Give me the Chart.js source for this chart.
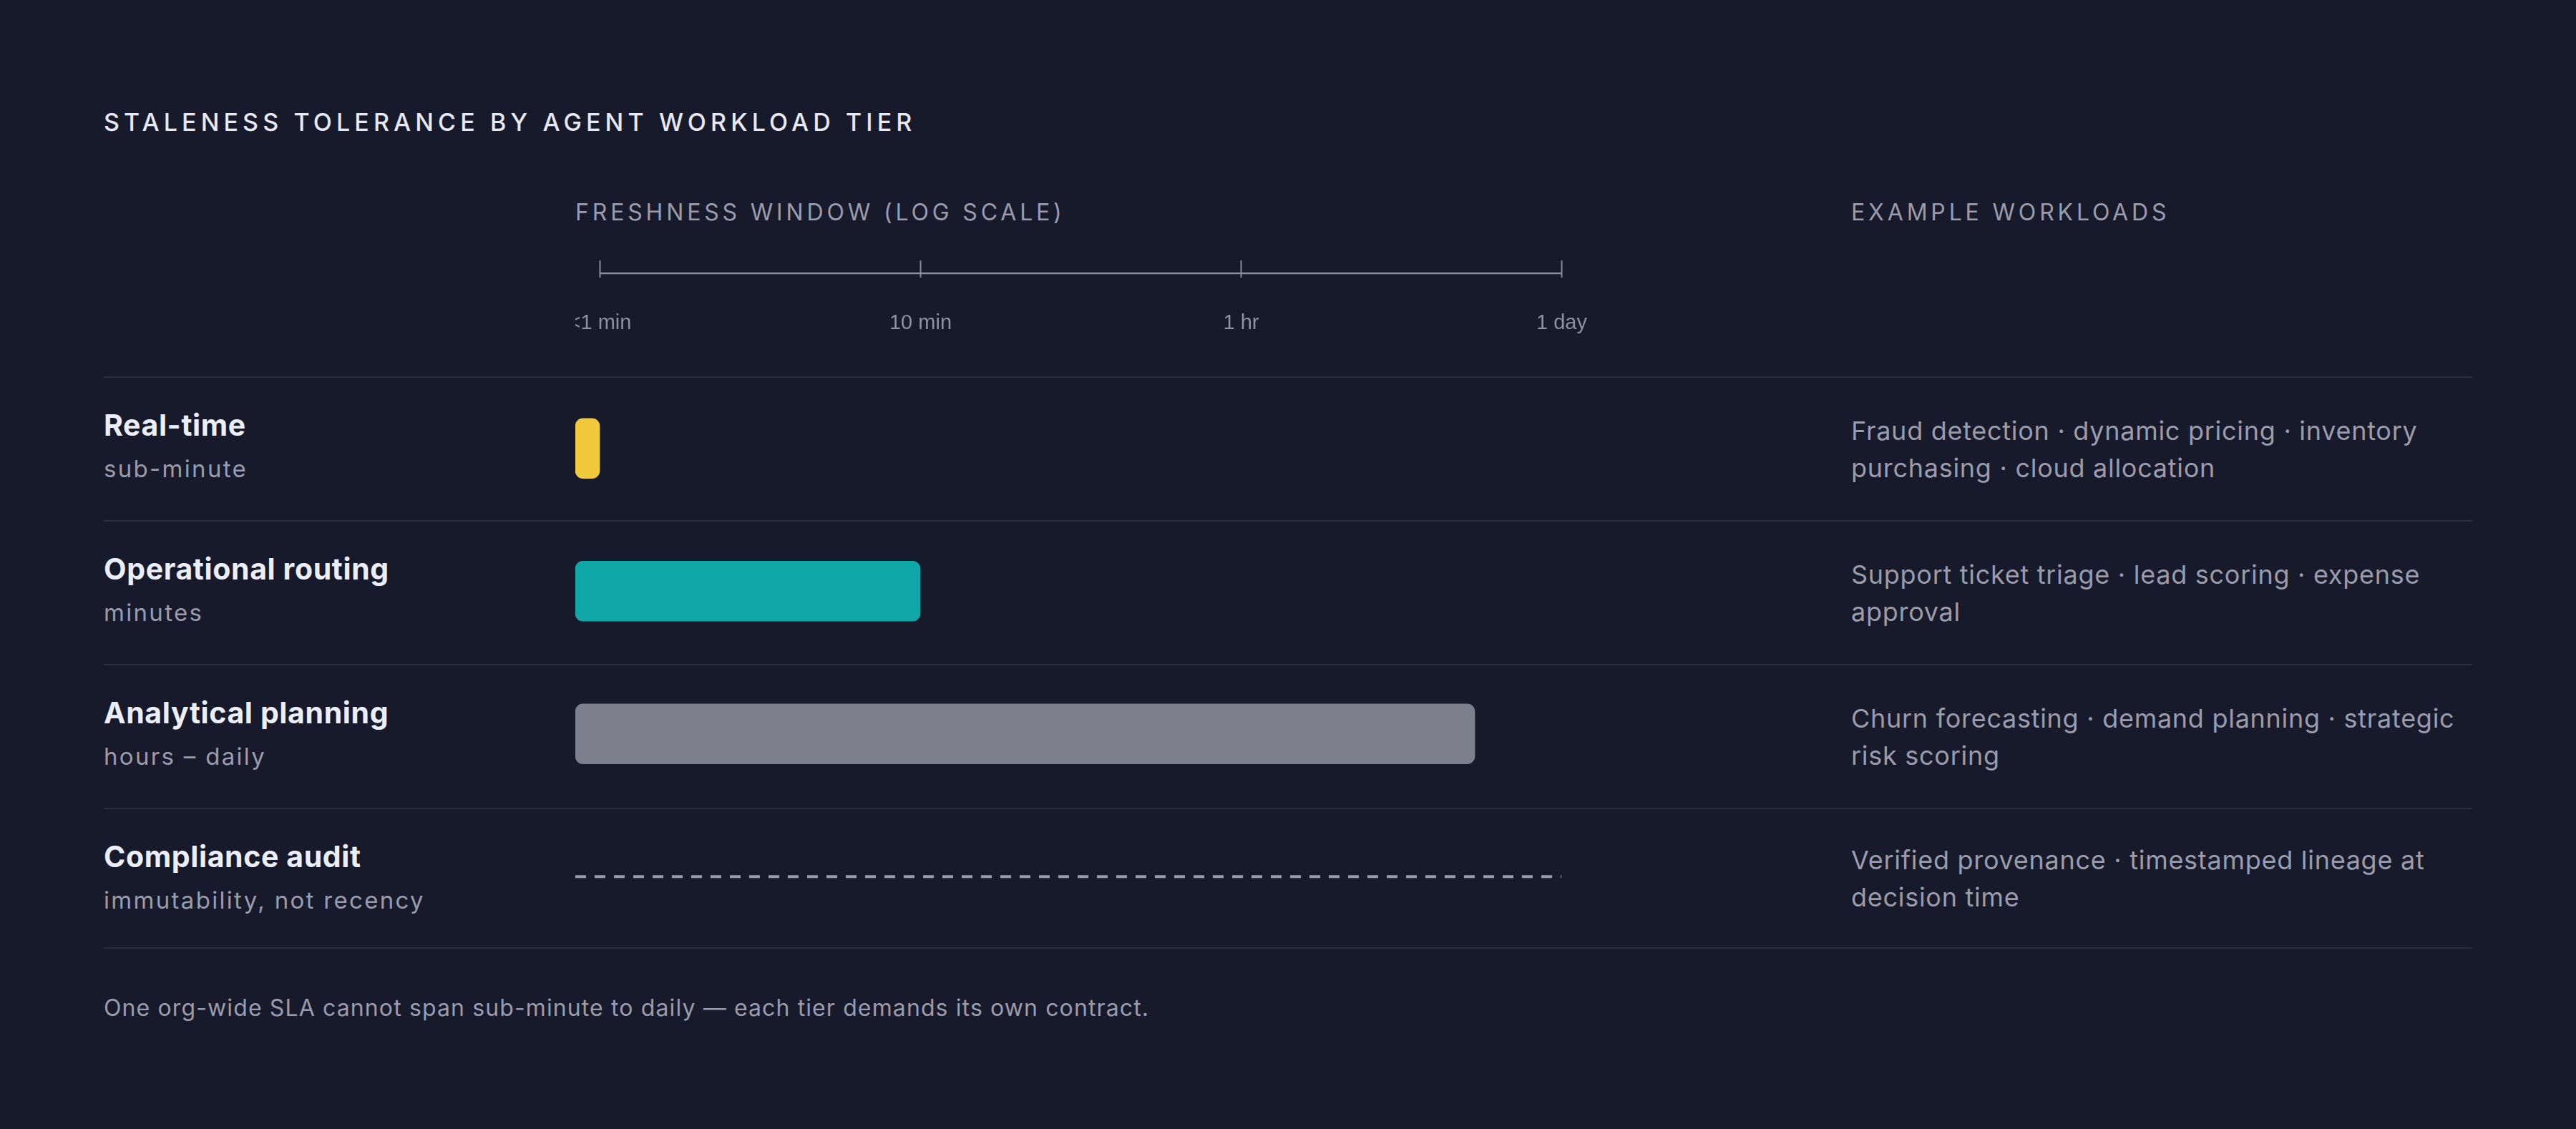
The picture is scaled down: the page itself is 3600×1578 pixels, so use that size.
<!DOCTYPE html>
<html>
<head>
<meta charset="utf-8">
<script src="https://cdn.jsdelivr.net/npm/chart.js@4.4.1/dist/chart.umd.min.js"></script>
<style>
    html, body {
        margin: 0;
        padding: 0;
        width: 3600px;
        height: 1578px;
        background: #171a2b;
        font-family: Inter, "Noto Sans", sans-serif;
        overflow: hidden;
    }

    .abs { position: absolute; line-height: 1; white-space: nowrap; }

    .title {
        left: 145px; top: 154px;
        font-size: 34px; font-weight: 500;
        letter-spacing: 0.18em;
        color: #e6e8f2;
    }

    .col-head {
        top: 281px;
        font-size: 32px;
        letter-spacing: 0.151em;
        color: #9a9cab;
    }

    .footer {
        left: 145px; top: 1393px;
        font-size: 32px;
        letter-spacing: 0.035em;
        color: #9a9cab;
    }

    .table {
        position: absolute;
        left: 145px; top: 526px;
        width: 3310px;
    }

    .row {
        position: relative;
        height: 199px;
        border-top: 2px solid #2a2d3e;
    }
    .row.last {
        height: 193px;
        border-bottom: 2px solid #2a2d3e;
    }

    .tier-name {
        position: absolute; left: 0; top: 42px;
        font-size: 41px; font-weight: 700;
        line-height: 48px;
        letter-spacing: 0.015em;
        color: #eceef7;
        white-space: nowrap;
    }
    .tier-sub {
        position: absolute; left: 0; top: 107px;
        font-size: 33px;
        line-height: 40px;
        letter-spacing: 0.07em;
        color: #9a9cab;
        white-space: nowrap;
    }
    .tier-examples {
        position: absolute; left: 2442px; top: 0; bottom: 0;
        width: 870px;
        display: flex; align-items: center;
        font-size: 36px;
        line-height: 52px;
        letter-spacing: 0.02em;
        color: #9a9cab;
    }

    #chartWrap {
        position: absolute;
        left: 804px; top: 340px;
        width: 1602px; height: 985px;
    }
</style>
</head>
<body>

<div class="abs title">STALENESS TOLERANCE BY AGENT WORKLOAD TIER</div>
<div class="abs col-head" style="left:804px;">FRESHNESS WINDOW (LOG SCALE)</div>
<div class="abs col-head" style="left:2587px;">EXAMPLE WORKLOADS</div>

<div class="table" id="table"></div>

<div id="chartWrap"><canvas id="freshnessChart" width="1602" height="985"></canvas></div>

<div class="abs footer">One org-wide SLA cannot span sub-minute to daily — each tier demands its own contract.</div>

<script>
// ===========================
// DATA
// ===========================

const tiers = ["Real-time", "Operational routing", "Analytical planning", "Compliance audit"];
const tierRanges = ["sub-minute", "minutes", "hours – daily", "immutability, not recency"];
const tierExamples = [
    "Fraud detection · dynamic pricing · inventory purchasing · cloud allocation",
    "Support ticket triage · lead scoring · expense approval",
    "Churn forecasting · demand planning · strategic risk scoring",
    "Verified provenance · timestamped lineage at decision time"
];

// freshness window end, in axis tick positions (0 = <1 min, 1 = 10 min, 2 = 1 hr, 3 = 1 day)
const windowEnd = [0, 1, 2.73, null];
const complianceEnd = 3;

const tickValues = [0, 1, 2, 3];
const tickLabels = ["<1 min", "10 min", "1 hr", "1 day"];

const tierColors = ["#f0c93c", "#10a7a9", "#7d7f8c", "rgba(0,0,0,0)"];

// ===========================
// TABLE ROWS (HTML text)
// ===========================

const table = document.getElementById("table");
tiers.forEach((name, i) => {
    const row = document.createElement("div");
    row.className = "row" + (i === tiers.length - 1 ? " last" : "");
    row.innerHTML = `
        <div class="tier-name">${name}</div>
        <div class="tier-sub">${tierRanges[i]}</div>
        <div class="tier-examples"><div>${tierExamples[i]}</div></div>
    `;
    table.appendChild(row);
});

// ===========================
// CHART
// ===========================

const AXIS_MIN = -0.076;
const AXIS_MAX = 3.5;

Chart.defaults.font.family = "'Liberation Sans', Arial, sans-serif";

// axis drawn above the rows: line between first and last tick, ticks poke up, labels below
const freshnessAxis = {
    id: "freshnessAxis",
    afterDraw(chart) {
        const x = chart.scales.x;
        const ctx = chart.ctx;
        const lineY = 42;

        ctx.save();
        ctx.strokeStyle = "#8a8d9c";
        ctx.lineWidth = 2.5;

        ctx.beginPath();
        ctx.moveTo(x.getPixelForValue(tickValues[0]), lineY);
        ctx.lineTo(x.getPixelForValue(tickValues[tickValues.length - 1]), lineY);
        ctx.stroke();

        ctx.fillStyle = "#8d90a0";
        ctx.font = "29px " + Chart.defaults.font.family;
        ctx.textAlign = "center";
        ctx.textBaseline = "alphabetic";

        tickValues.forEach((v, i) => {
            const px = Math.round(x.getPixelForValue(v)) + 0.5;
            ctx.lineWidth = 2;
            ctx.beginPath();
            ctx.moveTo(px, 24);
            ctx.lineTo(px, 48);
            ctx.stroke();
            ctx.fillText(tickLabels[i], px, 120);
        });

        ctx.restore();
    }
};

new Chart(document.getElementById("freshnessChart"), {
    type: "bar",
    data: {
        labels: tiers,
        datasets: [
            {
                data: windowEnd,
                base: AXIS_MIN,
                backgroundColor: tierColors,
                borderRadius: 11,
                borderSkipped: false,
                barThickness: 84
            },
            {
                type: "line",
                indexAxis: "y",
                data: [
                    { x: AXIS_MIN, y: tiers[3] },
                    { x: complianceEnd, y: tiers[3] }
                ],
                borderColor: "#989aa9",
                borderWidth: 4,
                borderDash: [15, 12],
                borderCapStyle: "butt",
                pointRadius: 0,
                fill: false,
                clip: false
            }
        ]
    },
    options: {
        indexAxis: "y",
        responsive: false,
        animation: false,
        layout: { padding: { top: 187, left: 0, right: 0, bottom: 0 } },
        scales: {
            x: { type: "linear", min: AXIS_MIN, max: AXIS_MAX, display: false },
            y: { display: false }
        },
        plugins: {
            legend: { display: false },
            tooltip: { enabled: false }
        }
    },
    plugins: [freshnessAxis]
});
</script>
</body>
</html>
